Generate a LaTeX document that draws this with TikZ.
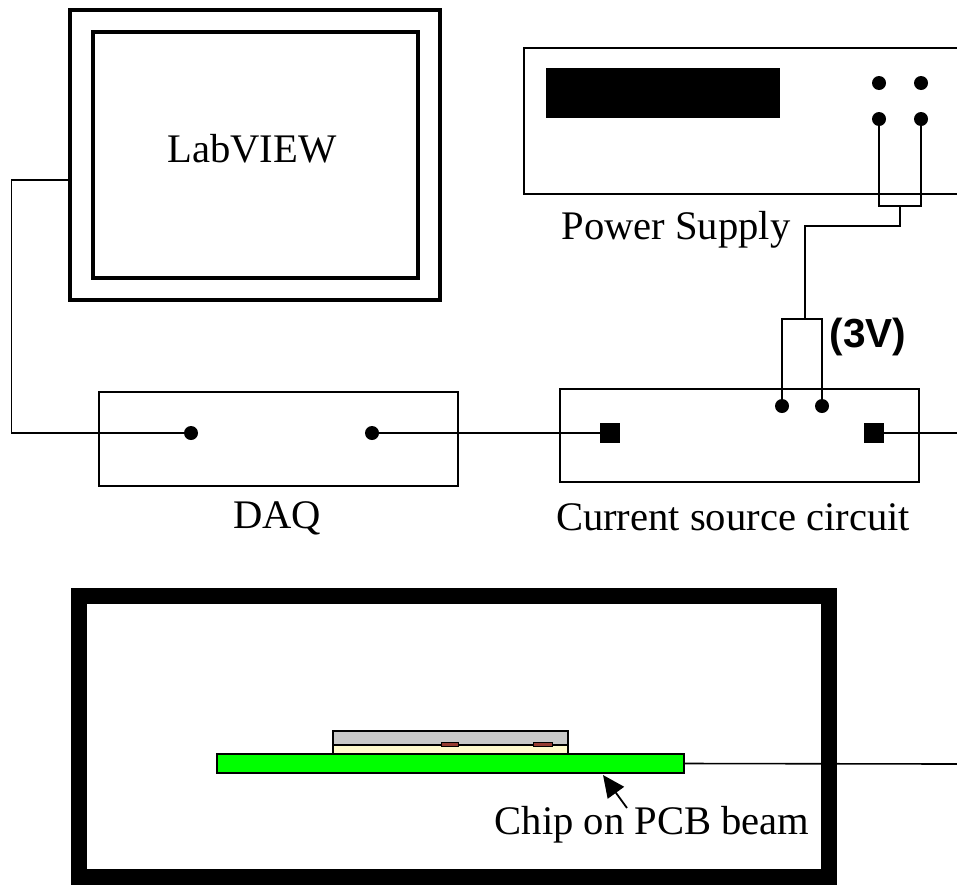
\documentclass[tikz,border=0pt]{standalone}
\usepackage{fontspec}
\setmainfont{Liberation Serif}
\newfontfamily\voltfont{Liberation Sans}
\usepackage{tikz}
\usetikzlibrary{arrows.meta, positioning}

\tikzset{
    wire/.style={line width=0.8pt},
    box/.style={draw, line width=1pt, inner sep=0pt},
    dot/.style={circle, fill=black, inner sep=0pt, minimum size=7pt},
    pin/.style={rectangle, fill=black, inner sep=0pt, minimum size=10pt},
    lbl/.style={inner sep=0pt, font=\fontsize{20.3}{24}\selectfont}
}

\begin{document}
\begin{tikzpicture}[x=0.5pt, y=-0.5pt]
    \useasboundingbox (0,0) rectangle (957,884);
    \clip (0,0) rectangle (957,884);

    % computer
    \node[box, line width=1.6pt, minimum width=185pt, minimum height=145pt] (monitor) at (255,155) {};
    \node[box, line width=1.7pt, minimum width=162.5pt, minimum height=123pt] (screen) at (255.5,155) {};
    \node[lbl] (labview) at (252,149) {LabVIEW};

    % power supply
    \node[box, line width=1.2pt, minimum width=228pt, minimum height=73pt] (supply) at (752,121) {};
    \fill (546,68) rectangle (780,118);
    \node[dot] (pa1) at (879,83) {};
    \node[dot] (pa2) at (921,83) {};
    \node[dot] (pb1) at (879,119) {};
    \node[dot] (pb2) at (921,119) {};
    \node[lbl] (supplylbl) at (676,230) {Power Supply};

    % DAQ and current source
    \node[box, minimum width=179.5pt, minimum height=47pt] (daq) at (278.5,439) {};
    \node[dot] (daqin) at (191,433) {};
    \node[dot] (daqout) at (372,433) {};
    \node[lbl] (daqlbl) at (277,518) {DAQ};

    \node[box, minimum width=179.5pt, minimum height=46.5pt] (source) at (739.5,435.5) {};
    \node[pin] (csin) at (610,433) {};
    \node[pin] (csout) at (874,433) {};
    \node[dot] (ca) at (782,406) {};
    \node[dot] (cb) at (822,406) {};
    \node[lbl] (sourcelbl) at (733,517) {Current source circuit};
    \node[inner sep=0pt, font=\voltfont\bfseries\fontsize{20.3}{24}\selectfont] (volt) at (868,337) {(3V)};

    \coordinate (psjoin) at (900,206);
    \coordinate (csjoin) at (805,319);
    \coordinate (outright) at (957,433);

    \draw[wire] ([yshift=-12.5pt]monitor.west) -- ++(-57,0) |- (daqin);
    \draw[wire] (daqout) -- (csin);
    \draw[wire] (csout) -- (outright);
    \draw[wire] (pb1) |- (psjoin) -| (pb2);
    \draw[wire] (psjoin) -- ++(0,20) -| (csjoin);
    \draw[wire] (ca) |- (csjoin) -| (cb);

    % chamber with the beam
    \node[draw, line width=8pt, inner sep=0pt, minimum width=375.15pt, minimum height=140.5pt] (chamber) at (453.85,736.5) {};
    \node[box, fill={rgb,255:red,0;green,255;blue,0}, minimum width=233.5pt, minimum height=9.5pt] (pcb) at (450.5,763.5) {};
    \node[box, line width=0.7pt, fill={rgb,255:red,255;green,250;blue,205}, minimum width=117.5pt, minimum height=4.5pt] (bond) at (450.5,749.5) {};
    \node[box, line width=0.7pt, fill={rgb,255:red,200;green,200;blue,200}, minimum width=117.5pt, minimum height=7pt] (die) at (450.5,738) {};
    \node[box, line width=0.5pt, fill={rgb,255:red,150;green,60;blue,50}, minimum width=8.5pt, minimum height=2pt] (pad1) at (449.5,744) {};
    \node[box, line width=0.5pt, fill={rgb,255:red,150;green,60;blue,50}, minimum width=9.5pt, minimum height=2pt] (pad2) at (542.5,744) {};

    \coordinate (beamout) at (957,764);
    \draw[wire] (pcb.east) -- (beamout);

    \node[lbl] (beamlbl) at (652,825) {Chip on PCB beam};
    \coordinate (beamtail) at (627,808);
    \coordinate (beamtip) at (603,775);
    \draw[line width=0.9pt, -{Triangle[length=11pt, width=10pt]}] (beamtail) -- (beamtip);
\end{tikzpicture}
\end{document}
